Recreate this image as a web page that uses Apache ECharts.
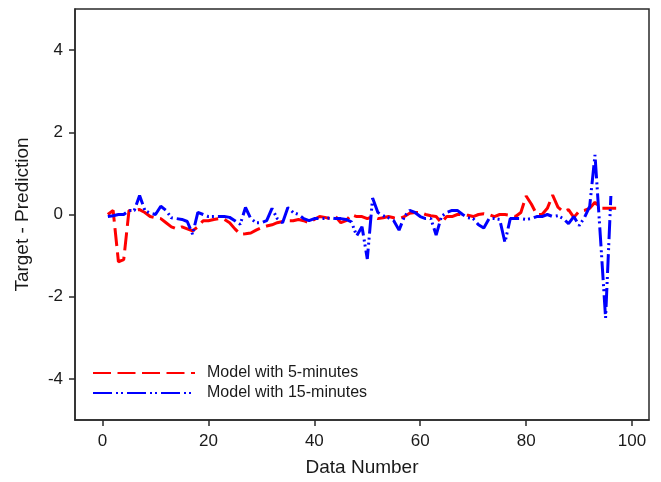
<!DOCTYPE html>
<html>
<head>
<meta charset="utf-8">
<script src="https://cdn.jsdelivr.net/npm/echarts@6/dist/echarts.min.js"></script>
<style>html,body{margin:0;padding:0;background:#fff;}#c{width:661px;height:482px;}</style>
</head>
<body>
<div id="c"></div>
<script>
// Data Number (x) values
const dataNumber = [1,2,3,4,5,6,7,8,9,10,11,12,13,14,15,16,17,18,19,20,21,22,23,24,25,26,27,28,29,30,
  31,32,33,34,35,36,37,38,39,40,41,42,43,44,45,46,47,48,49,50,51,52,53,54,55,56,57,58,59,60,
  61,62,63,64,65,66,67,68,69,70,71,72,73,74,75,76,77,78,79,80,81,82,83,84,85,86,87,88,89,90,
  91,92,93,94,95,96,97];

// Target - Prediction, Model with 5-minutes (x = 1..97)
const model5min = [0.0,0.1,-1.15,-1.1,0.1,0.1,0.12,0.05,-0.05,-0.08,
  -0.1,-0.2,-0.3,-0.35,-0.3,-0.35,-0.4,-0.3,-0.15,-0.15,
  -0.12,-0.1,-0.12,-0.2,-0.35,-0.48,-0.47,-0.45,-0.38,-0.32,
  -0.28,-0.25,-0.2,-0.17,-0.15,-0.15,-0.12,-0.15,-0.2,-0.12,
  -0.05,-0.07,-0.1,-0.05,-0.2,-0.15,0.0,-0.05,-0.05,-0.1,
  -0.05,-0.1,-0.08,-0.05,-0.08,-0.1,-0.05,0.03,0.05,0.05,
  0.0,-0.03,-0.05,-0.2,-0.05,-0.05,0.0,0.0,-0.02,-0.05,
  0.0,0.02,0.0,-0.05,0.0,0.0,-0.02,-0.05,0.05,0.45,
  0.25,0.0,0.0,0.15,0.47,0.18,0.07,0.12,-0.07,0.08,
  0.1,0.15,0.3,0.15,0.15,0.15,0.15];

// Target - Prediction, Model with 15-minutes (x = 1..96)
const model15min = [-0.05,-0.03,0.0,0.0,0.1,0.1,0.46,0.1,0.03,0.0,
  0.2,0.1,-0.08,-0.1,-0.12,-0.17,-0.48,0.05,0.0,-0.05,
  -0.05,-0.05,-0.05,-0.07,-0.15,-0.24,0.17,-0.1,-0.2,-0.2,
  -0.15,0.15,-0.1,-0.2,0.17,0.05,0.0,-0.1,-0.15,-0.1,
  -0.1,-0.1,-0.08,-0.1,-0.1,-0.12,-0.18,-0.52,-0.3,-1.08,
  0.4,0.05,-0.03,-0.08,-0.15,-0.38,-0.05,0.1,0.05,-0.05,
  -0.1,-0.1,-0.5,-0.05,0.05,0.1,0.1,0.0,-0.08,-0.1,
  -0.25,-0.33,-0.1,-0.1,-0.12,-0.68,-0.1,-0.1,-0.1,-0.12,
  -0.1,-0.05,-0.05,0.0,-0.05,-0.03,-0.1,-0.22,-0.05,-0.27,
  -0.08,0.2,1.45,-0.5,-2.52,0.45];

const xTicks = [0, 20, 40, 60, 80, 100];
const yTicks = [-4, -2, 0, 2, 4];
const seriesNames = ['Model with 5-minutes', 'Model with 15-minutes'];

const pairs = (ys) => ys.map((v, i) => [dataNumber[i], v]);
const FONT = "'Liberation Sans', Arial, sans-serif";

const chart = echarts.init(document.getElementById('c'), null, {renderer: 'canvas'});
chart.setOption({
  animation: false,
  backgroundColor: '#fff',
  grid: {left: 75, right: 12, top: 9, bottom: 59, show: true, borderColor: '#2a2a2a', borderWidth: 1.5, containLabel: false},
  xAxis: {
    type: 'value', min: -5.2, max: 103.2,
    name: 'Data Number', nameLocation: 'middle', nameGap: 38,
    nameTextStyle: {fontFamily: FONT, fontSize: 19, color: '#1a1a1a'},
    axisLine: {show: true, onZero: false, lineStyle: {color: '#2a2a2a', width: 1.5}},
    axisTick: {show: true, inside: false, length: 6, customValues: xTicks, lineStyle: {color: '#2a2a2a', width: 1.5}},
    axisLabel: {customValues: xTicks, margin: 13, fontFamily: FONT, fontSize: 17, color: '#1a1a1a'},
    splitLine: {show: false}
  },
  yAxis: {
    type: 'value', min: -5, max: 5,
    name: 'Target - Prediction', nameLocation: 'middle', nameGap: 43, nameRotate: 90,
    nameTextStyle: {fontFamily: FONT, fontSize: 19, color: '#1a1a1a'},
    axisLine: {show: true, onZero: false, lineStyle: {color: '#2a2a2a', width: 1.5}},
    axisTick: {show: true, inside: false, length: 6, customValues: yTicks, lineStyle: {color: '#2a2a2a', width: 1.5}},
    axisLabel: {customValues: yTicks, margin: 12, fontFamily: FONT, fontSize: 17, color: '#1a1a1a'},
    splitLine: {show: false}
  },
  legend: {
    orient: 'vertical', left: 87, top: 360,
    itemWidth: 102, itemHeight: 12, itemGap: 4,
    itemStyle: {opacity: 0},
    textStyle: {fontFamily: FONT, fontSize: 16, color: '#1a1a1a', padding: [0, 0, 0, 7]},
    data: seriesNames
  },
  series: [
    {
      name: seriesNames[0], type: 'line', data: pairs(model5min),
      showSymbol: false, symbol: 'none',
      lineStyle: {color: '#ff0000', width: 3, type: [18, 6.5], cap: 'butt'},
      itemStyle: {color: '#ff0000'}
    },
    {
      name: seriesNames[1], type: 'line', data: pairs(model15min),
      showSymbol: false, symbol: 'none',
      lineStyle: {color: '#0000ff', width: 3, type: [19, 4, 2, 3, 2, 4], cap: 'butt'},
      itemStyle: {color: '#0000ff'}
    }
  ]
});
</script>
</body>
</html>
